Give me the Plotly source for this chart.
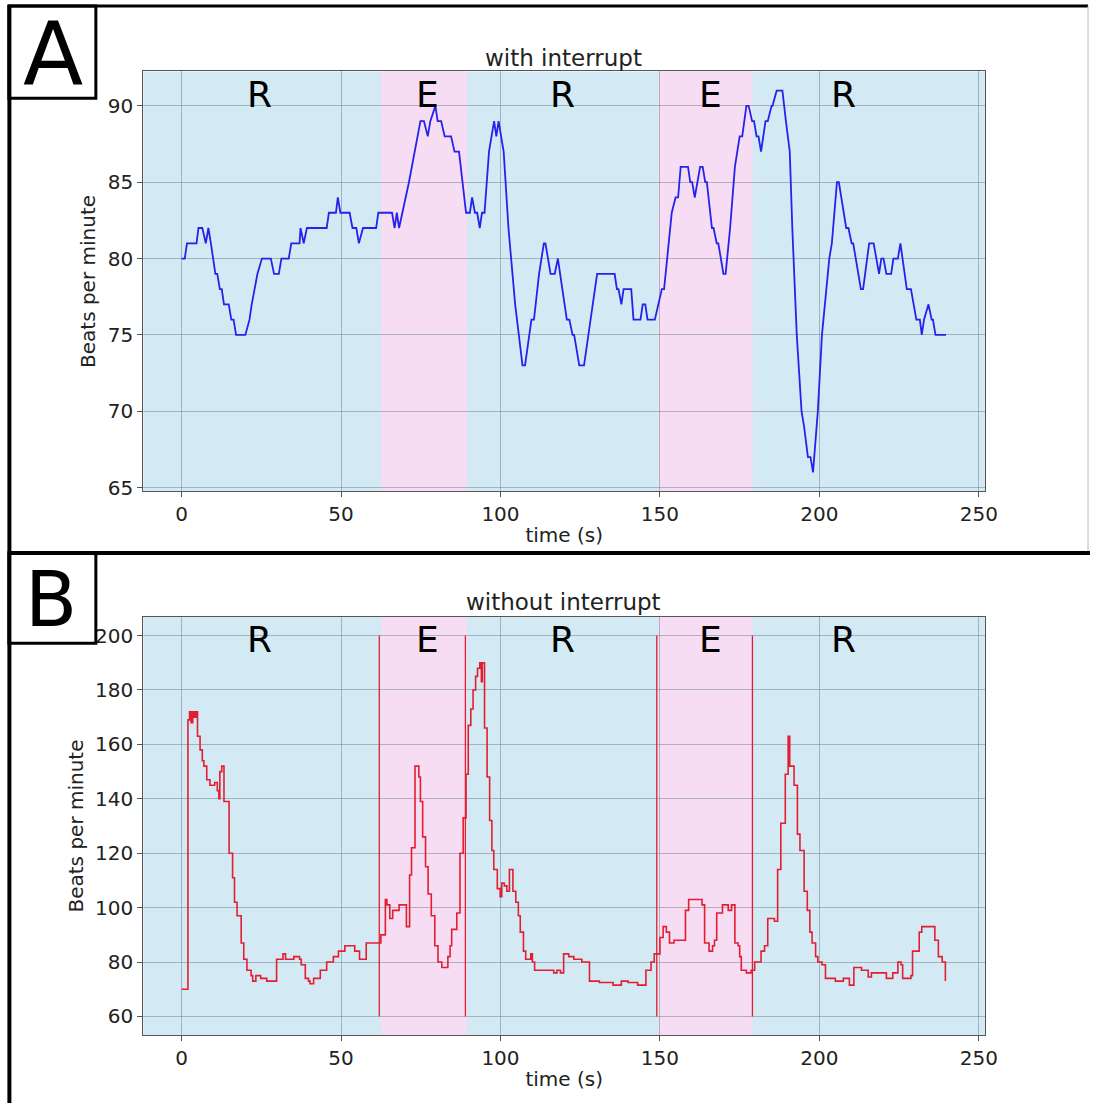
import plotly.graph_objects as go

# ---------------- data ----------------
# Panel A: with interrupt (time s, beats per minute)
t_a = [0, 1, 1.7, 4.7, 5.3, 6.5, 7.6, 8.4, 9.2, 10, 10.6, 11.2, 12, 12.6, 13.3, 14.8, 15.6, 16.3, 17.1, 20,
       21.3, 22, 23.8, 25.2, 28, 29, 30.5, 31.3, 33.6, 34.4, 37, 37.3, 38.3, 39.3, 45.5, 46.2, 48.4, 49, 49.8, 52.7,
       53.6, 54.8, 55.6, 56.9, 61, 61.7, 66, 66.8, 67.5, 68.2, 69.2, 71.3, 74.9, 76, 77.2, 78, 79.6, 80.3, 81.4, 82.5,
       84.5, 85.6, 87, 88, 89.2, 90.4, 91.1, 92, 92.7, 93.5, 94.2, 95, 96.4, 98, 98.7, 99.4, 101, 102.5, 104.6, 106.9,
       107.7, 109.7, 110.5, 112.1, 113.6, 114.1, 115.7, 117, 118, 120.8, 121.6, 122.6, 123.1, 124.7, 126.2, 130.3, 135.8, 136.5,
       137, 137.9, 138.6, 141, 141.7, 143.9, 144.6, 145.4, 146.1, 148.4, 149.4, 150.6, 151.3, 152.3, 153.7, 154.9, 155.7, 156.5,
       158.8, 159.5, 160.1, 160.9, 162.6, 163.4, 164.2, 164.7, 166.3, 166.8, 167.8, 168.3, 169.9, 170.6, 172, 173.5, 175, 175.8,
       177.1, 177.8, 178.9, 179.5, 180.3, 180.9, 181.7, 183.1, 183.8, 185, 185.3, 186.6, 188.4, 189.5, 190.7, 191.5, 192.9, 194.4,
       195.2, 196.4, 197.2, 198, 199.5, 200.8, 203.1, 203.9, 205.5, 206.1, 208.4, 209.1, 210.1, 210.6, 213, 213.7, 215.6, 217,
       218.7, 219.4, 220.1, 221, 222.5, 223.2, 224.6, 225.4, 227.4, 228.7, 230.4, 231.5, 232.1, 232.8, 234.2, 235.2, 235.6, 236.4,
       239.7]
bpm_a = [80, 80, 81, 81, 82, 82, 81, 82, 81, 80, 79, 79, 78, 78, 77, 77, 76, 76, 75, 75,
         76, 77, 79, 80, 80, 79, 79, 80, 80, 81, 81, 82, 81, 82, 82, 83, 83, 84, 83, 83,
         82, 82, 81, 82, 82, 83, 83, 82, 83, 82, 83, 85, 89, 89, 88, 89, 90, 89, 89, 88,
         88, 87, 87, 85, 83, 83, 84, 83, 83, 82, 83, 83, 87, 89, 88, 89, 87, 82, 77, 73,
         73, 76, 76, 79, 81, 81, 79, 79, 80, 76, 76, 75, 75, 73, 73, 79, 79, 78,
         78, 77, 78, 78, 76, 76, 77, 77, 76, 76, 77, 78, 78, 80, 83, 84, 84, 86,
         86, 85, 85, 84, 86, 86, 85, 85, 82, 82, 81, 81, 79, 79, 82, 86, 88, 88,
         90, 90, 89, 89, 88, 88, 87, 89, 89, 90, 90, 91, 91, 89, 87, 82, 75, 70,
         69, 67, 67, 66, 70, 75, 80, 81, 85, 85, 82, 82, 81, 81, 78, 78, 81, 81,
         79, 80, 80, 79, 79, 80, 80, 81, 78, 78, 76, 76, 75, 76, 77, 76, 76, 75,
         75]

# Panel B: without interrupt (step trace)
t_b = [0, 2, 2.5, 3, 3.5, 4, 4.5, 5, 5.8, 6.5, 7, 7.9, 8.9, 10.4, 11.2, 11.7, 12, 12.6, 13.3, 14.9,
       16, 16.6, 17.4, 18.7, 19.5, 20.5, 21.8, 22.3, 23.3, 24.8, 26.7, 29.8, 31.8, 32.6, 35.2, 37, 37.5, 38.8, 39.8, 40.3,
       41.4, 43.5, 45.5, 47.6, 49.2, 51.2, 54.3, 55.8, 57.9, 58.9, 62.5, 63.9, 64.4, 65.3, 66.2, 68.2, 70.5, 71.5, 72.1, 73.2,
       74.4, 74.9, 75.6, 76.5, 77.3, 78.3, 79.4, 80.4, 81.6, 83.5, 84.2, 84.7, 86.3, 87.3, 88.3, 89.2, 89.9, 90.7, 91.4, 92.2,
       92.8, 93.5, 94.0, 94.3, 95.0, 95.8, 96.6, 97.3, 97.9, 99, 99.9, 100.4, 101.2, 102, 102.8, 103.9, 104.8, 105.6, 106.2, 107.2,
       107.9, 109.5, 110, 110.7, 116.7, 117.7, 118.8, 119.8, 121.4, 123, 125.5, 127.9, 131, 135.3, 137.9, 140, 143, 145.6, 147.2, 148.2,
       150, 151, 152, 153, 154.4, 158, 159, 163.2, 164, 165.4, 166.5, 167.1, 167.8, 169.6, 171.4, 172.45, 173.5, 174.5, 175, 175.5,
       177.1, 178.6, 179.7, 181.7, 182.8, 183.8, 185.9, 186.9, 187.9, 189.3, 190.2, 190.7, 192.05, 193.1, 193.9, 195.2, 196.2, 197, 197.7, 198.8,
       199.5, 200.8, 201.9, 203.9, 205, 207.5, 209.4, 210.8, 213.2, 215.3, 216.3, 218.9, 221, 223, 224.6, 225.6, 226.1, 228.7, 229.2, 231.3,
       232.1, 235.6, 236.2, 237.3, 238.5, 239.5]
bpm_b = [70, 169, 172, 168, 172, 170, 172, 163, 158, 154, 152, 147, 145, 146, 143, 140, 150, 152, 139, 120,
         111, 102, 97, 87, 81, 77, 75, 73, 75, 74, 73, 81, 83, 81, 82, 81, 79, 74, 73, 72,
         74, 77, 80, 82, 84, 86, 84, 81, 87, 87, 90, 103, 101, 96, 99, 101, 93, 112, 122, 152,
         148, 139, 126, 115, 105, 97, 86, 80, 78, 82, 86, 92, 98, 120, 133, 149, 167, 173, 180, 185,
         188, 190, 183, 190, 166, 148, 132, 121, 114, 107, 104, 109, 108, 106, 114, 106, 102, 97, 91, 84,
         81, 83, 80, 77, 76, 77, 76, 83, 82, 81, 80, 73, 72.5, 71.5, 73, 72.5, 71.5, 77, 80, 83,
         89, 93, 91, 87, 88, 99, 103, 101, 87, 84, 86, 88, 98, 101, 99, 101, 87, 86, 82, 77,
         76, 77, 80, 84, 86, 96, 95, 114, 131, 149, 163, 152, 145, 127, 121, 106, 99, 91, 87, 82,
         80, 79, 74, 74, 73, 74, 71.5, 78, 77, 74.5, 76, 76, 74, 76, 80, 79, 74, 75, 84, 91,
         93, 93, 88, 82, 80, 73]

# phase boundaries (s) and labels
exercise_spans = [(62.5, 89.5), (149.5, 179)]
boundary_lines = [62, 89, 149, 179]
phase_labels = ["R", "E", "R", "E", "R"]
phase_label_x = [24.5, 77, 119.5, 166, 207.5]

x_ticks = [0, 50, 100, 150, 200, 250]
y_ticks_a = [65, 70, 75, 80, 85, 90]
y_ticks_b = [60, 80, 100, 120, 140, 160, 180, 200]

# ---------------- figure ----------------
W, H = 1103, 1111
BLUE_BG = "rgb(211,233,244)"
PINK = "rgb(246,221,243)"
GRID = "rgba(120,135,145,0.55)"
FONT = "DejaVu Sans"

fig = go.Figure()
fig.add_trace(go.Scatter(x=t_a, y=bpm_a, mode="lines", line=dict(color="rgb(35,35,235)", width=1.8),
                         xaxis="x", yaxis="y", showlegend=False))
fig.add_trace(go.Scatter(x=t_b, y=bpm_b, mode="lines", line=dict(color="rgb(228,30,50)", width=1.6, shape="hv"),
                         xaxis="x2", yaxis="y2", showlegend=False))

def px_x(p):
    return p / W

def px_y(p):
    return 1 - p / H

common_x = dict(range=[-12, 252], tickvals=x_ticks, showgrid=True, gridcolor=GRID, gridwidth=1,
                zeroline=False, showline=True, linecolor="#555", linewidth=1, mirror=True,
                ticks="outside", ticklen=5, tickcolor="#555", tickfont=dict(size=20, color="#222", family=FONT),
                title=dict(text="time (s)", font=dict(size=20, color="#222", family=FONT), standoff=2))
common_y = dict(showgrid=True, gridcolor=GRID, gridwidth=1, zeroline=False, showline=True, linecolor="#555",
                linewidth=1, mirror=True, ticks="outside", ticklen=5, tickcolor="#555",
                tickfont=dict(size=20, color="#222", family=FONT),
                title=dict(text="Beats per minute", font=dict(size=20, color="#222", family=FONT), standoff=6))

fig.update_layout(
    width=W, height=H, margin=dict(l=0, r=0, t=0, b=0),
    paper_bgcolor="white", plot_bgcolor=BLUE_BG,
    font=dict(family=FONT),
    xaxis=dict(domain=[px_x(145), px_x(997)], anchor="y", **common_x),
    yaxis=dict(domain=[px_y(495), px_y(72)], anchor="x", range=[64.75, 92.25], tickvals=y_ticks_a, **common_y),
    xaxis2=dict(domain=[px_x(145), px_x(997)], anchor="y2", **common_x),
    yaxis2=dict(domain=[px_y(1043), px_y(621)], anchor="x2", range=[53, 207], tickvals=y_ticks_b, **common_y),
)

shapes = []
for xr, yr in (("x", "y"), ("x2", "y2")):
    for a, b in exercise_spans:
        shapes.append(dict(type="rect", xref=xr, yref=yr + " domain", x0=a, x1=b, y0=0, y1=1,
                           fillcolor=PINK, line=dict(width=0), layer="below"))
for xv in boundary_lines:
    shapes.append(dict(type="line", xref="x2", yref="y2", x0=xv, x1=xv, y0=60, y1=200,
                       line=dict(color="rgb(228,30,50)", width=1.3)))

# panel frames
blk = dict(color="black", width=3)
shapes += [
    dict(type="line", xref="paper", yref="paper", x0=px_x(8), x1=px_x(1101), y0=px_y(6), y1=px_y(6), line=blk),
    dict(type="line", xref="paper", yref="paper", x0=px_x(9.5), x1=px_x(9.5), y0=px_y(5), y1=px_y(1111), line=dict(color="black", width=4)),
    dict(type="line", xref="paper", yref="paper", x0=px_x(1101), x1=px_x(1101), y0=px_y(6), y1=px_y(557), line=dict(color="#bbb", width=1)),
    dict(type="line", xref="paper", yref="paper", x0=px_x(8), x1=px_x(1103), y0=px_y(557), y1=px_y(557), line=dict(color="black", width=4)),
    dict(type="rect", xref="paper", yref="paper", x0=px_x(9), x1=px_x(97), y0=px_y(99), y1=px_y(6), line=blk),
    dict(type="rect", xref="paper", yref="paper", x0=px_x(9), x1=px_x(97), y0=px_y(648), y1=px_y(557), line=blk),
]
fig.update_layout(shapes=shapes)

ann = []
for yr, title, ty in (("y", "with interrupt", 58), ("y2", "without interrupt", 606)):
    xr = "x" if yr == "y" else "x2"
    for lab, lx in zip(phase_labels, phase_label_x):
        ann.append(dict(text=lab, x=lx, y=0.946, xref=xr, yref=yr + " domain", showarrow=False,
                        font=dict(size=36, color="black", family=FONT), xanchor="center", yanchor="middle"))
    ann.append(dict(text=title, x=px_x(570), y=px_y(ty), xref="paper", yref="paper", showarrow=False,
                    font=dict(size=23, color="#222", family=FONT), xanchor="center", yanchor="middle"))
ann.append(dict(text="A", x=px_x(53.5), y=px_y(54), xref="paper", yref="paper", showarrow=False,
                font=dict(size=88, color="black", family=FONT), xanchor="center", yanchor="middle"))
ann.append(dict(text="B", x=px_x(52), y=px_y(604), xref="paper", yref="paper", showarrow=False,
                font=dict(size=76, color="black", family=FONT), xanchor="center", yanchor="middle"))
fig.update_layout(annotations=ann)

fig.write_html("out.html")
